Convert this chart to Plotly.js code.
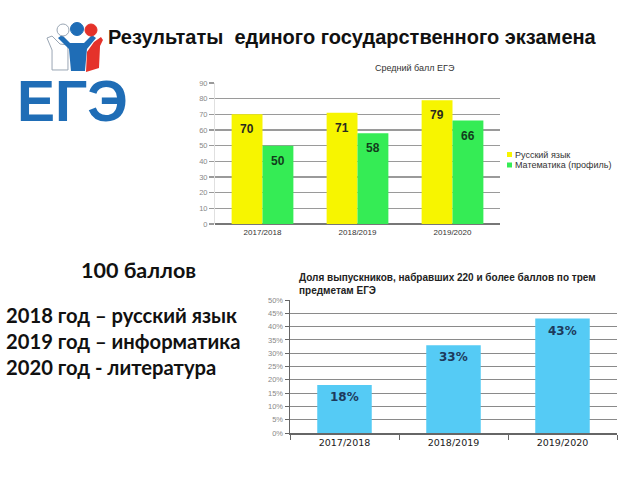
<!DOCTYPE html>
<html>
<head>
<meta charset="utf-8">
<script src="https://cdn.plot.ly/plotly-3.0.1.min.js"></script>
<style>html,body{margin:0;padding:0;background:#fff;}#chart{width:640px;height:480px;}</style>
</head>
<body>
<div id="chart"></div>
<script>
// ---- data ----
const years = ['2017/2018', '2018/2019', '2019/2020'];
const russianScores = [70, 71, 79];
const mathScores = [50, 58, 66];
const seriesNames = ['Русский язык', 'Математика (профиль)'];
const scoreTicks = [0, 10, 20, 30, 40, 50, 60, 70, 80, 90];
const shareValues = [0.18, 0.33, 0.43];
const shareLabels = ['18%', '33%', '43%'];
const shareTicks = [0, 0.05, 0.10, 0.15, 0.20, 0.25, 0.30, 0.35, 0.40, 0.45, 0.50];
const title1 = 'Средний балл ЕГЭ';
const title2 = 'Доля выпускников, набравших 220 и более баллов по трем<br>предметам ЕГЭ';
const slideTitle = 'Результаты  единого государственного экзамена';
const hundredTitle = '100 баллов';
const hundredLines = ['2018 год – русский язык', '2019 год – информатика', '2020 год - литература'];

// ---- helpers (pixel -> paper) ----
const W = 640, H = 480;
const px = x => x / W;
const py = y => 1 - y / H;
function path(pts) {
  return 'M ' + pts.map(p => px(p[0]).toFixed(4) + ',' + py(p[1]).toFixed(4)).join(' L ') + ' Z';
}
function circle(cx, cy, r, fill, line) {
  return {type: 'circle', xref: 'paper', yref: 'paper',
    x0: px(cx - r), x1: px(cx + r), y0: py(cy + r), y1: py(cy - r),
    fillcolor: fill, line: {color: line || fill, width: 1}};
}

const YELLOW = '#f7f500';
const GREEN = '#35ec55';
const BLUE = '#55cbf5';

const traces = [
  {type: 'bar', x: years, y: russianScores, name: seriesNames[0], xaxis: 'x', yaxis: 'y',
   marker: {color: YELLOW}, hoverinfo: 'none', showlegend: false},
  {type: 'bar', x: years, y: mathScores, name: seriesNames[1], xaxis: 'x', yaxis: 'y',
   marker: {color: GREEN}, hoverinfo: 'none', showlegend: false},
  {type: 'bar', x: years, y: shareValues, xaxis: 'x2', yaxis: 'y2', width: 0.5,
   marker: {color: BLUE}, hoverinfo: 'none', showlegend: false}
];

const annotations = [];
// slide title
annotations.push({xref: 'paper', yref: 'paper', x: px(106), y: py(37), xanchor: 'left', yanchor: 'middle',
  text: '<b>' + slideTitle + '</b>', showarrow: false, font: {family: 'Liberation Sans', size: 20, color: '#111'}});
// logo text
annotations.push({xref: 'paper', yref: 'paper', x: px(72), y: py(101), xanchor: 'center', yanchor: 'middle',
  text: '<b>ЕГЭ</b>', showarrow: false, font: {family: 'Liberation Sans', size: 57, color: '#1f6db6'}});
// left text block
annotations.push({xref: 'paper', yref: 'paper', x: px(138), y: py(270), xanchor: 'center', yanchor: 'middle',
  text: '<b>' + hundredTitle + '</b>', showarrow: false, font: {family: 'Lato', size: 21.5, color: '#111'}});
hundredLines.forEach((t, i) => annotations.push({xref: 'paper', yref: 'paper', x: px(4), y: py(315 + i * 26),
  xanchor: 'left', yanchor: 'middle', text: '<b>' + t + '</b>', showarrow: false,
  font: {family: 'Lato', size: 20.2, color: '#111'}}));
// chart titles
annotations.push({xref: 'paper', yref: 'paper', x: px(415), y: py(68), xanchor: 'center', yanchor: 'middle',
  text: title1, showarrow: false, font: {family: 'Liberation Sans', size: 9, color: '#333'}});
annotations.push({xref: 'paper', yref: 'paper', x: px(297), y: py(284), xanchor: 'left', yanchor: 'middle',
  align: 'left', text: '<b>' + title2 + '</b>', showarrow: false,
  font: {family: 'Liberation Sans', size: 10, color: '#222'}});
// manual legend
seriesNames.forEach((n, i) => annotations.push({xref: 'paper', yref: 'paper', x: px(513), y: py(154.5 + i * 10.5),
  xanchor: 'left', yanchor: 'middle', text: n, showarrow: false,
  font: {family: 'Liberation Sans', size: 9, color: '#333'}}));
// value labels
years.forEach((c, i) => {
  annotations.push({xref: 'x', yref: 'y', x: c, y: russianScores[i], xshift: -15.5, yshift: -15,
    text: '<b>' + russianScores[i] + '</b>', showarrow: false,
    font: {family: 'Liberation Sans', size: 12, color: '#2a2a20'}});
  annotations.push({xref: 'x', yref: 'y', x: c, y: mathScores[i], xshift: 15.5, yshift: -15,
    text: '<b>' + mathScores[i] + '</b>', showarrow: false,
    font: {family: 'Liberation Sans', size: 12, color: '#123d1c'}});
  annotations.push({xref: 'x2', yref: 'y2', x: c, y: shareValues[i], yshift: -12,
    text: '<b>' + shareLabels[i] + '</b>', showarrow: false,
    font: {family: 'DejaVu Sans', size: 12, color: '#1d3a5c'}});
});

const shapes = [
  // legend squares
  {type: 'rect', xref: 'paper', yref: 'paper', x0: px(507), x1: px(512), y0: py(157), y1: py(152),
   fillcolor: YELLOW, line: {width: 0}},
  {type: 'rect', xref: 'paper', yref: 'paper', x0: px(507), x1: px(512), y0: py(167.5), y1: py(162.5),
   fillcolor: GREEN, line: {width: 0}},
  // logo figures
  {type: 'path', xref: 'paper', yref: 'paper', path: path([[47,38],[52,36],[60,44],[68,45],[68,70],[52,70],[52,50]]),
   fillcolor: '#ffffff', line: {color: '#9aa6b4', width: 1}},
  {type: 'path', xref: 'paper', yref: 'paper', path: path([[58,38],[62,35],[70,43],[84,43],[92,35],[96,38],[87,49],[85,71],[71,71],[69,49]]),
   fillcolor: '#1f6db6', line: {width: 0}},
  {type: 'path', xref: 'paper', yref: 'paper', path: path([[94,42],[101,37],[103,40],[100,46],[99,68],[86,72],[87,52]]),
   fillcolor: '#e5322a', line: {width: 0}},
  circle(63, 30, 6, '#ffffff', '#9aa6b4'),
  circle(77, 29, 6.5, '#1f6db6'),
  circle(91, 30, 6, '#e5322a')
];

const layout = {
  width: W, height: H,
  margin: {l: 0, r: 0, t: 0, b: 0},
  paper_bgcolor: '#ffffff', plot_bgcolor: 'rgba(0,0,0,0)',
  barmode: 'group', bargap: 0.35, bargroupgap: 0,
  showlegend: false,
  xaxis: {domain: [px(215), px(500)], anchor: 'y', type: 'category', categoryarray: years,
    showgrid: false, zeroline: false, showline: false, ticks: '',
    tickfont: {family: 'Liberation Sans', size: 8, color: '#333'}, ticklabelstandoff: 2},
  yaxis: {domain: [py(224), py(83)], anchor: 'x', range: [0, 90], tickvals: scoreTicks,
    showgrid: true, gridcolor: '#9a9a9a', gridwidth: 1.5, zeroline: true, zerolinecolor: '#777', zerolinewidth: 1.5,
    showline: true, linecolor: '#e0e0e0', linewidth: 1,
    ticks: 'outside', ticklen: 5, tickcolor: '#9a9a9a', tickwidth: 1.5,
    tickfont: {family: 'Liberation Sans', size: 7.5, color: '#888'}},
  xaxis2: {domain: [px(290), px(617)], anchor: 'y2', type: 'category', categoryarray: years,
    showgrid: false, zeroline: false, showline: true, linecolor: '#666', linewidth: 1.5,
    ticks: 'outside', tickson: 'boundaries', ticklen: 5, tickcolor: '#666',
    tickfont: {family: 'DejaVu Sans', size: 9.5, color: '#1a1a1a'}},
  yaxis2: {domain: [py(433), py(300)], anchor: 'x2', range: [0, 0.5], tickvals: shareTicks, tickformat: '.0%',
    showgrid: true, gridcolor: '#8a8a8a', gridwidth: 1.2, zeroline: false,
    showline: true, linecolor: '#666', linewidth: 1.5,
    ticks: 'outside', ticklen: 4, tickcolor: '#666',
    tickfont: {family: 'Liberation Sans', size: 7.5, color: '#888'}},
  annotations: annotations,
  shapes: shapes
};

Plotly.newPlot('chart', traces, layout, {staticPlot: true, displayModeBar: false});
</script>
</body>
</html>
